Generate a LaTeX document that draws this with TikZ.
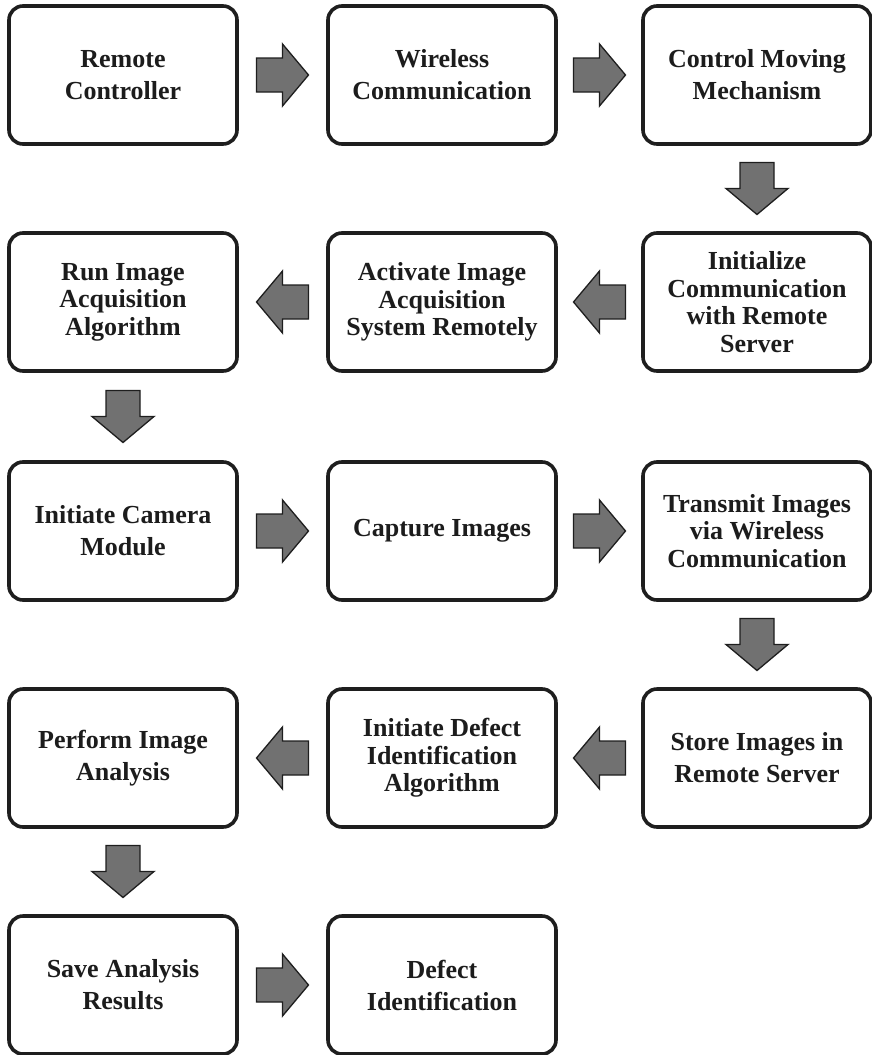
\documentclass[tikz,border=0pt]{standalone}
\usepackage{fontspec}
\setmainfont{Liberation Serif}
\usepackage{tikz}
\usetikzlibrary{calc}

\definecolor{boxline}{HTML}{1E1E1E}
\definecolor{txtcol}{HTML}{1C1C1C}
\definecolor{arrfill}{HTML}{717171}

\begin{document}
\begin{tikzpicture}[
  x=1pt, y=-1pt,
  B/.style={draw=boxline, line width=3.6pt, rounded corners=14pt, fill=white,
    minimum width=228pt, minimum height=138pt, align=center, text=txtcol,
    font=\fontsize{26}{27.5}\selectfont\bfseries},
  B2/.style={B, font=\fontsize{26}{32}\selectfont\bfseries},
  fat/.pic={\draw[fill=arrfill, draw=boxline, line width=1.3pt, line join=miter]
    (-26,-17) -- (0,-17) -- (0,-31) -- (26,0) -- (0,31) -- (0,17) -- (-26,17) -- cycle;},
]
\useasboundingbox (0,0) rectangle (872,1055);

%--- ROW 1 ---
\node[B2] (rc)  at (123,75) {Remote\\Controller};
\node[B2] (wc)  at (442,75) {Wireless\\Communication};
\node[B2] (cmm) at (757,75) {Control Moving\\Mechanism};

%--- ROW 2 ---
\node[B] (ics) at (757,302) {Initialize\\Communication\\with Remote\\Server};
\node[B] (aia) at (442,302) {Activate Image\\Acquisition\\System Remotely};
\node[B] (ria) at (123,302) {Run Image\\Acquisition\\Algorithm};

%--- ROW 3 ---
\node[B2] (icm) at (123,531) {Initiate Camera\\Module};
\node[B] (cap) at (442,531) {Capture Images};
\node[B] (tim) at (757,531) {Transmit Images\\via Wireless\\Communication};

%--- ROW 4 ---
\node[B2] (sir) at (757,758) {Store Images in\\Remote Server};
\node[B] (idi) at (442,758) {Initiate Defect\\Identification\\Algorithm};
\node[B2] (pia) at (123,758) {Perform Image\\Analysis};

%--- ROW 5 ---
\node[B2] (sar) at (123,985) {Save Analysis\\Results};
\node[B2] (did) at (442,985) {Defect\\Identification};

%--- ARROWS ---
\path ($(rc.east)!0.5!(wc.west)$)   pic {fat};
\path ($(wc.east)!0.5!(cmm.west)$)  pic {fat};
\path ($(cmm.south)!0.5!(ics.north)$) pic[rotate=-90] {fat};
\path ($(ics.west)!0.5!(aia.east)$) pic[rotate=180] {fat};
\path ($(aia.west)!0.5!(ria.east)$) pic[rotate=180] {fat};
\path ($(ria.south)!0.5!(icm.north)$) pic[rotate=-90] {fat};
\path ($(icm.east)!0.5!(cap.west)$) pic {fat};
\path ($(cap.east)!0.5!(tim.west)$) pic {fat};
\path ($(tim.south)!0.5!(sir.north)$) pic[rotate=-90] {fat};
\path ($(sir.west)!0.5!(idi.east)$) pic[rotate=180] {fat};
\path ($(idi.west)!0.5!(pia.east)$) pic[rotate=180] {fat};
\path ($(pia.south)!0.5!(sar.north)$) pic[rotate=-90] {fat};
\path ($(sar.east)!0.5!(did.west)$) pic {fat};
\end{tikzpicture}
\end{document}
